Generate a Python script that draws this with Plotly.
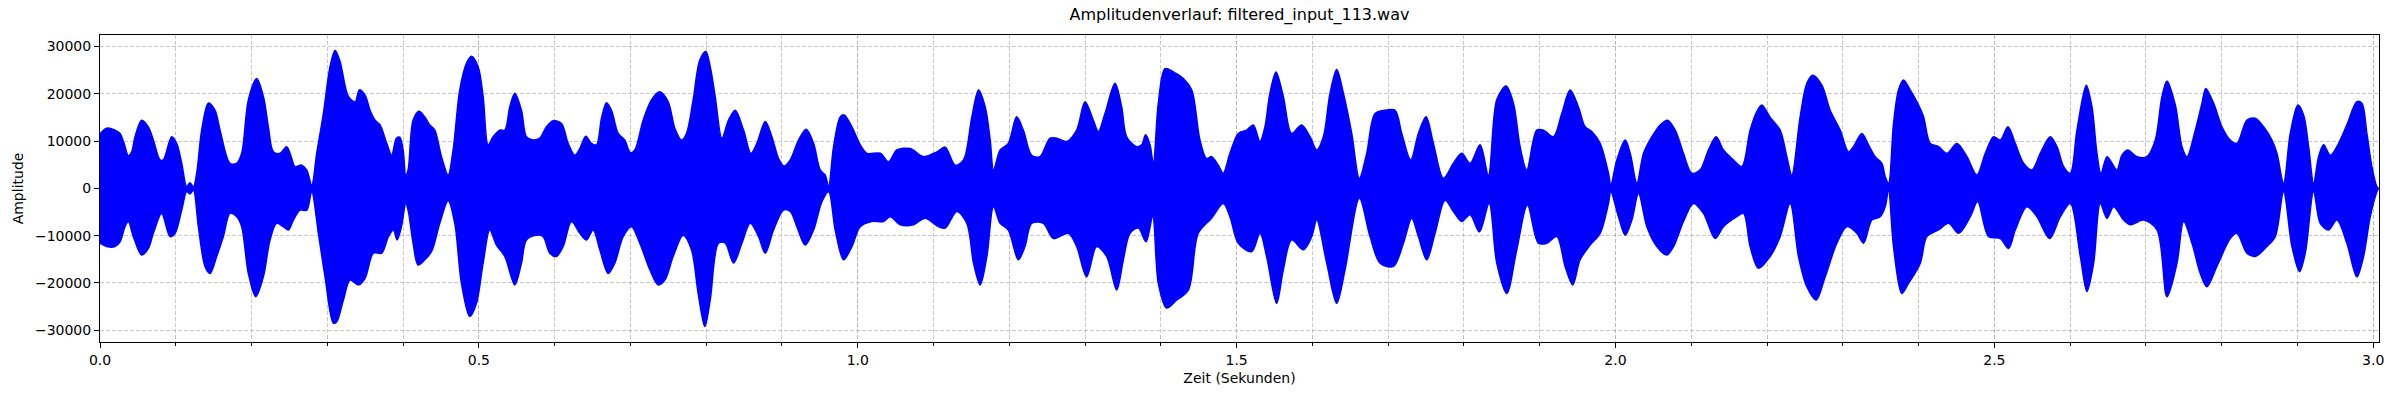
import plotly.graph_objects as go

# envelope of the waveform (seconds, amplitude)
t_upper = [0.0000, 0.0088, 0.0198, 0.0264, 0.0317, 0.0374, 0.0418, 0.0462, 0.0550, 0.0638,
           0.0704, 0.0792, 0.0836, 0.0946, 0.1012, 0.1078, 0.1144, 0.1188, 0.1232, 0.1276,
           0.1342, 0.1430, 0.1518, 0.1584, 0.1716, 0.1804, 0.1870, 0.1958, 0.2068, 0.2156,
           0.2222, 0.2288, 0.2376, 0.2464, 0.2530, 0.2574, 0.2662, 0.2728, 0.2794, 0.2860,
           0.2948, 0.3036, 0.3102, 0.3168, 0.3278, 0.3366, 0.3423, 0.3498, 0.3564, 0.3630,
           0.3696, 0.3784, 0.3850, 0.3912, 0.3956, 0.4000, 0.4035, 0.4066, 0.4132, 0.4211,
           0.4286, 0.4352, 0.4418, 0.4506, 0.4594, 0.4660, 0.4748, 0.4836, 0.4902, 0.4990,
           0.5056, 0.5122, 0.5188, 0.5276, 0.5342, 0.5408, 0.5474, 0.5562, 0.5628, 0.5716,
           0.5804, 0.5892, 0.5980, 0.6090, 0.6178, 0.6266, 0.6332, 0.6411, 0.6486, 0.6552,
           0.6618, 0.6684, 0.6750, 0.6838, 0.6926, 0.7000, 0.7058, 0.7168, 0.7278, 0.7388,
           0.7498, 0.7586, 0.7674, 0.7740, 0.7828, 0.7916, 0.7995, 0.8053, 0.8119, 0.8207,
           0.8295, 0.8383, 0.8493, 0.8590, 0.8669, 0.8779, 0.8867, 0.8955, 0.9029, 0.9109,
           0.9219, 0.9320, 0.9417, 0.9505, 0.9571, 0.9615, 0.9681, 0.9769, 0.9821, 0.9923,
           1.0033, 1.0121, 1.0297, 1.0407, 1.0516, 1.0692, 1.0868, 1.1044, 1.1154, 1.1286,
           1.1396, 1.1506, 1.1594, 1.1682, 1.1748, 1.1792, 1.1880, 1.1987, 1.2097, 1.2185,
           1.2295, 1.2405, 1.2537, 1.2625, 1.2757, 1.2889, 1.2999, 1.3109, 1.3175, 1.3263,
           1.3395, 1.3483, 1.3549, 1.3681, 1.3747, 1.3799, 1.3857, 1.3901, 1.3967, 1.4055,
           1.4165, 1.4297, 1.4407, 1.4516, 1.4604, 1.4670, 1.4758, 1.4824, 1.4912, 1.5022,
           1.5132, 1.5220, 1.5308, 1.5374, 1.5440, 1.5520, 1.5616, 1.5726, 1.5858, 1.5969,
           1.6057, 1.6145, 1.6233, 1.6321, 1.6409, 1.6519, 1.6620, 1.6717, 1.6827, 1.6959,
           1.7091, 1.7179, 1.7298, 1.7399, 1.7500, 1.7597, 1.7729, 1.7861, 1.7971, 1.8081,
           1.8213, 1.8323, 1.8433, 1.8556, 1.8653, 1.8741, 1.8829, 1.8961, 1.9049, 1.9181,
           1.9291, 1.9401, 1.9511, 1.9599, 1.9687, 1.9797, 1.9907, 1.9938, 2.0018, 2.0128,
           2.0194, 2.0282, 2.0370, 2.0480, 2.0590, 2.0686, 2.0788, 2.0897, 2.1007, 2.1117,
           2.1227, 2.1329, 2.1425, 2.1557, 2.1667, 2.1777, 2.1865, 2.1931, 2.2041, 2.2173,
           2.2261, 2.2327, 2.2437, 2.2525, 2.2604, 2.2723, 2.2833, 2.2965, 2.3075, 2.3141,
           2.3251, 2.3339, 2.3427, 2.3515, 2.3559, 2.3603, 2.3669, 2.3735, 2.3801, 2.3889,
           2.4000, 2.4066, 2.4154, 2.4264, 2.4374, 2.4506, 2.4638, 2.4770, 2.4880, 2.4990,
           2.5078, 2.5179, 2.5276, 2.5386, 2.5496, 2.5606, 2.5738, 2.5826, 2.5914, 2.6002,
           2.6090, 2.6213, 2.6288, 2.6354, 2.6406, 2.6486, 2.6552, 2.6618, 2.6684, 2.6759,
           2.6882, 2.7014, 2.7124, 2.7212, 2.7278, 2.7388, 2.7476, 2.7542, 2.7652, 2.7740,
           2.7790, 2.7893, 2.8003, 2.8113, 2.8201, 2.8333, 2.8443, 2.8553, 2.8663, 2.8729,
           2.8817, 2.8905, 2.9006, 2.9081, 2.9147, 2.9213, 2.9279, 2.9345, 2.9433, 2.9520,
           2.9652, 2.9784, 2.9850, 2.9916, 2.9982, 3.0048, 3.0070]
a_upper = [11500, 12700, 12300, 11600, 9500, 6900, 7700, 10900, 14400, 13000,
           10200, 6000, 6000, 10900, 9500, 5300, 350, 1200, 300, 3200,
           12300, 18000, 16500, 12300, 5300, 5300, 7400, 18700, 23200, 19400,
           13000, 7700, 7400, 8800, 6300, 4600, 4900, 3900, 700, 7400,
           15800, 25700, 29200, 26800, 19400, 18300, 20800, 19700, 16500, 14400,
           13400, 9500, 7000, 10600, 10800, 8100, 2800, 3900, 14400, 16300,
           15100, 13400, 12300, 6700, 2800, 8100, 20800, 26400, 27900, 25700,
           19400, 9200, 10900, 12300, 12300, 17200, 20100, 16500, 10900, 10200,
           10600, 13000, 14300, 13700, 9500, 7000, 8400, 11000, 9500, 9200,
           14800, 18100, 16500, 11600, 10200, 7500, 8100, 14400, 18700, 20400,
           18300, 12700, 10200, 11600, 18700, 27100, 28900, 25700, 19400, 10600,
           14400, 16500, 12300, 7400, 9500, 14100, 10900, 6300, 4700, 6000,
           10200, 12500, 9500, 3900, 2800, 350, 8800, 15100, 15500, 13000,
           9200, 7400, 7400, 5600, 8100, 8400, 6700, 7700, 8700, 4900,
           6000, 15100, 20800, 17200, 10200, 3900, 8100, 9500, 15100, 12300,
           7000, 6700, 10600, 10600, 9900, 12300, 18300, 14400, 12000, 15800,
           22200, 17200, 10900, 8800, 9200, 11300, 9200, 5300, 18000, 25300,
           24600, 23200, 20800, 10200, 6300, 6700, 4900, 3200, 7400, 11600,
           12300, 13400, 9900, 13000, 20100, 24600, 19400, 11600, 13400, 10900,
           8100, 10900, 20100, 25100, 20100, 11600, 2100, 7400, 15800, 16500,
           16500, 11600, 6000, 11600, 15100, 9500, 2100, 5300, 7400, 5300,
           9200, 2800, 18700, 21600, 18000, 8800, 3900, 12300, 12300, 10900,
           15800, 20800, 17200, 13000, 12000, 9500, 3200, 700, 6000, 10200,
           7400, 1100, 7400, 10900, 13400, 14400, 12300, 7400, 3200, 3900,
           8100, 10900, 8100, 6000, 4600, 12300, 16200, 17600, 15000, 12300,
           6700, 2800, 15100, 22200, 23900, 21800, 16500, 12300, 7700, 8800,
           11600, 9200, 6700, 5300, 2500, 1100, 13700, 20800, 22900, 20800,
           17600, 15100, 9500, 8800, 7400, 9500, 6700, 2800, 7400, 10900,
           10200, 13000, 9500, 5300, 3900, 7400, 10900, 8800, 4600, 3200,
           12300, 21800, 17200, 7400, 3200, 6700, 5300, 3900, 7000, 8100,
           6700, 6700, 10200, 19400, 22700, 17600, 8800, 6700, 12300, 18000,
           21100, 18000, 13000, 10200, 9500, 14400, 14800, 13000, 10200, 7400,
           1100, 11600, 17600, 15500, 8800, 1100, 6700, 9200, 7000, 8800,
           13400, 18300, 18000, 11600, 4600, 350, 0]

t_lower = [0.0000, 0.0088, 0.0198, 0.0264, 0.0330, 0.0374, 0.0440, 0.0550, 0.0638, 0.0704,
           0.0814, 0.0924, 0.0990, 0.1078, 0.1144, 0.1188, 0.1232, 0.1298, 0.1386, 0.1452,
           0.1540, 0.1628, 0.1716, 0.1804, 0.1870, 0.1958, 0.2055, 0.2156, 0.2244, 0.2332,
           0.2420, 0.2486, 0.2552, 0.2640, 0.2728, 0.2794, 0.2882, 0.2970, 0.3080, 0.3124,
           0.3212, 0.3300, 0.3410, 0.3498, 0.3608, 0.3718, 0.3806, 0.3872, 0.3921, 0.3978,
           0.4035, 0.4066, 0.4132, 0.4198, 0.4286, 0.4374, 0.4484, 0.4594, 0.4682, 0.4770,
           0.4880, 0.4968, 0.5056, 0.5144, 0.5232, 0.5342, 0.5474, 0.5562, 0.5628, 0.5760,
           0.5848, 0.5936, 0.6024, 0.6112, 0.6222, 0.6332, 0.6420, 0.6508, 0.6596, 0.6706,
           0.6794, 0.6904, 0.7014, 0.7124, 0.7256, 0.7366, 0.7454, 0.7564, 0.7696, 0.7806,
           0.7894, 0.7982, 0.8053, 0.8163, 0.8251, 0.8361, 0.8471, 0.8581, 0.8691, 0.8779,
           0.8889, 0.9021, 0.9109, 0.9197, 0.9307, 0.9417, 0.9527, 0.9615, 0.9703, 0.9813,
           0.9923, 1.0033, 1.0187, 1.0341, 1.0429, 1.0561, 1.0736, 1.0890, 1.1066, 1.1154,
           1.1308, 1.1440, 1.1528, 1.1616, 1.1704, 1.1792, 1.1880, 1.1987, 1.2119, 1.2207,
           1.2295, 1.2449, 1.2581, 1.2779, 1.2889, 1.3021, 1.3153, 1.3285, 1.3417, 1.3505,
           1.3593, 1.3703, 1.3804, 1.3892, 1.3967, 1.4077, 1.4209, 1.4363, 1.4494, 1.4670,
           1.4824, 1.4912, 1.5022, 1.5198, 1.5308, 1.5396, 1.5528, 1.5616, 1.5726, 1.5880,
           1.5991, 1.6057, 1.6189, 1.6321, 1.6431, 1.6620, 1.6761, 1.6893, 1.7069, 1.7201,
           1.7311, 1.7399, 1.7509, 1.7619, 1.7751, 1.7861, 1.7971, 1.8081, 1.8204, 1.8332,
           1.8433, 1.8565, 1.8697, 1.8838, 1.8983, 1.9093, 1.9225, 1.9335, 1.9436, 1.9533,
           1.9665, 1.9797, 1.9907, 1.9938, 2.0040, 2.0128, 2.0216, 2.0304, 2.0414, 2.0546,
           2.0678, 2.0766, 2.0897, 2.1029, 2.1161, 2.1315, 2.1425, 2.1601, 2.1689, 2.1777,
           2.1887, 2.2041, 2.2173, 2.2305, 2.2415, 2.2525, 2.2648, 2.2767, 2.2921, 2.3053,
           2.3185, 2.3273, 2.3383, 2.3493, 2.3559, 2.3603, 2.3669, 2.3779, 2.3867, 2.4022,
           2.4110, 2.4264, 2.4396, 2.4528, 2.4682, 2.4779, 2.4924, 2.5078, 2.5188, 2.5276,
           2.5430, 2.5562, 2.5729, 2.5870, 2.6002, 2.6134, 2.6222, 2.6310, 2.6398, 2.6486,
           2.6574, 2.6706, 2.6794, 2.6970, 2.7146, 2.7278, 2.7410, 2.7498, 2.7608, 2.7718,
           2.7805, 2.7937, 2.8113, 2.8201, 2.8333, 2.8443, 2.8597, 2.8707, 2.8817, 2.8927,
           2.9028, 2.9103, 2.9213, 2.9301, 2.9410, 2.9520, 2.9652, 2.9784, 2.9872, 2.9960,
           3.0048, 3.0070]
a_lower = [-11600, -12300, -12300, -11300, -8100, -7000, -10200, -14100, -12700, -9500,
           -5300, -10200, -9500, -4600, -700, -1200, -350, -8100, -16500, -18000,
           -14400, -10200, -5300, -6000, -8100, -18000, -22900, -18700, -10900, -7400,
           -8100, -8800, -6700, -4600, -4600, -700, -9500, -18700, -28500, -28200,
           -23600, -19400, -20400, -19000, -13700, -13700, -10200, -8800, -10900, -8100,
           -3200, -4600, -11600, -16200, -15100, -13400, -7400, -2600, -7400, -20100,
           -27100, -24300, -15800, -8800, -12000, -14400, -20400, -15800, -10900, -9900,
           -10200, -13700, -14400, -12300, -7000, -9500, -10900, -8800, -13000, -18000,
           -15800, -10200, -8100, -11600, -17200, -20400, -19400, -14400, -9900, -13000,
           -22200, -29200, -23600, -11600, -11600, -15800, -11600, -7400, -10200, -13700,
           -8800, -4600, -4900, -8100, -12000, -8800, -2800, -700, -8800, -15100,
           -12300, -8100, -7000, -7000, -6000, -7700, -7700, -6300, -8100, -8400,
           -4900, -7400, -15800, -20400, -14400, -3900, -7400, -8800, -15100, -12300,
           -7400, -7400, -10600, -9500, -12300, -18700, -12300, -14400, -21500, -15100,
           -9500, -8400, -11300, -6000, -20100, -25300, -23600, -21500, -9500, -6300,
           -3200, -6000, -11600, -13400, -9500, -14400, -24300, -17200, -10900, -13000,
           -10200, -6700, -15800, -24300, -17200, -2100, -10200, -15800, -16500, -11600,
           -6300, -10200, -15100, -9500, -2500, -4900, -7000, -5600, -9200, -3200,
           -15800, -22200, -13000, -3500, -11600, -11600, -10200, -16500, -20400, -15100,
           -12000, -9500, -3200, -700, -6000, -9900, -6700, -1100, -8100, -12300,
           -14100, -12300, -7000, -3200, -5300, -10600, -8100, -6000, -5300, -12300,
           -16900, -14400, -10200, -3200, -14400, -20800, -23600, -18700, -11600, -8100,
           -9500, -11600, -6700, -6000, -3900, -350, -12300, -22200, -20100, -15800,
           -10200, -8800, -7400, -9500, -6000, -2800, -10200, -10600, -12700, -8800,
           -3900, -6000, -10600, -6000, -3200, -14400, -21800, -15800, -3200, -6300,
           -3900, -6700, -7700, -6700, -8800, -22900, -15800, -7000, -11600, -18000,
           -20800, -16500, -10600, -9500, -13700, -14400, -12300, -10200, -700, -12300,
           -17600, -13700, -700, -7400, -8800, -6700, -11600, -18700, -14400, -6000,
           -700, 0]

title = "Amplitudenverlauf: filtered_input_113.wav"
x_label = "Zeit (Sekunden)"
y_label = "Amplitude"
x_ticks = [0.0, 0.5, 1.0, 1.5, 2.0, 2.5, 3.0]
x_tick_text = ["0.0", "0.5", "1.0", "1.5", "2.0", "2.5", "3.0"]
y_ticks = [-30000, -20000, -10000, 0, 10000, 20000, 30000]
y_tick_text = ["\u221230000", "\u221220000", "\u221210000", "0", "10000", "20000", "30000"]

# closed outline: upper envelope left->right, lower envelope right->left
xs = t_upper + t_lower[::-1]
ys = a_upper + a_lower[::-1]

fig = go.Figure()
fig.add_trace(go.Scatter(x=xs, y=ys, mode="lines", fill="toself",
                         fillcolor="#0000ff",
                         line=dict(color="#0000ff", width=1.5, shape="spline", smoothing=0.9),
                         hoverinfo="skip", showlegend=False))

grid = "rgba(176,176,176,0.7)"
fig.update_layout(
    width=2400, height=400,
    margin=dict(l=100, r=21, t=35, b=58),
    paper_bgcolor="white", plot_bgcolor="white",
    font=dict(family="DejaVu Sans", size=14, color="black"),
    title=dict(text=title, x=0.5, xref="paper", xanchor="center",
               y=1 - 14 / 400, yref="container", yanchor="middle",
               font=dict(size=16, color="black")),
    showlegend=False,
)
fig.update_xaxes(
    range=[0, 3.0076], tickvals=x_ticks, ticktext=x_tick_text,
    ticks="outside", ticklen=5, tickwidth=1, tickcolor="black",
    showline=True, linecolor="black", linewidth=1, mirror=True,
    showgrid=True, gridcolor=grid, griddash="4px,2px", gridwidth=1,
    zeroline=False,
    minor=dict(dtick=0.1, tick0=0, ticks="outside", ticklen=3, tickcolor="black",
               showgrid=True, gridcolor=grid, griddash="4px,2px", gridwidth=1),
    title=dict(text=x_label, standoff=6, font=dict(size=14)),
)
fig.update_yaxes(
    range=[-32470, 32400], tickvals=y_ticks, ticktext=y_tick_text,
    ticks="outside", ticklen=5, tickwidth=1, tickcolor="black",
    showline=True, linecolor="black", linewidth=1, mirror=True,
    showgrid=True, gridcolor=grid, griddash="4px,2px", gridwidth=1,
    zeroline=False,
    title=dict(text=y_label, standoff=8, font=dict(size=14)),
)

# page body has a default margin; drop it so the figure sits at the top-left corner
fig.write_html("out.html", config={"displayModeBar": False},
               post_script="document.body.style.margin='0px';")
